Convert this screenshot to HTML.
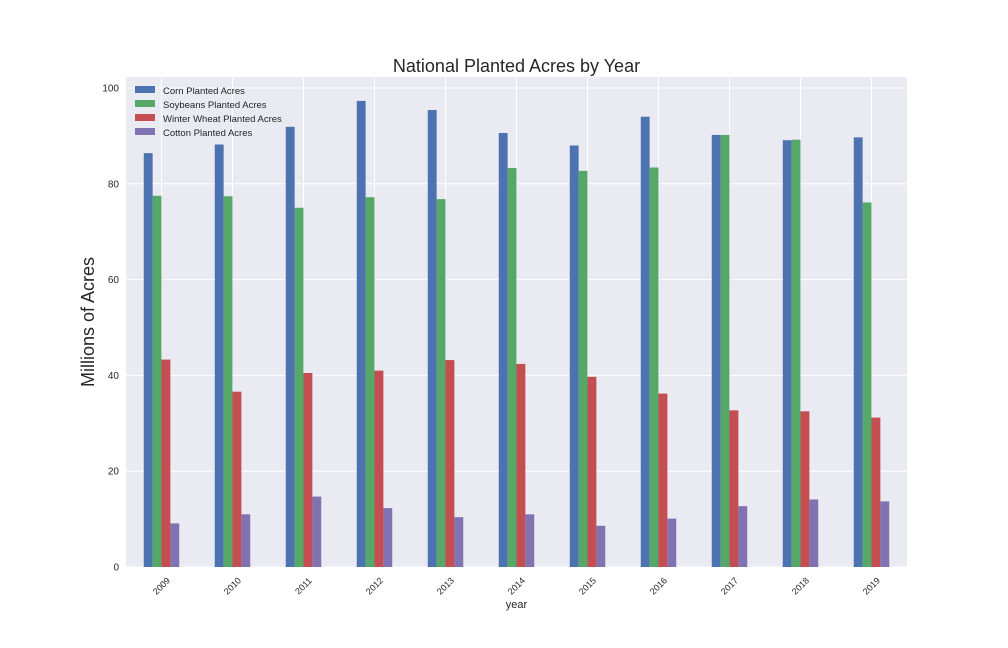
<!DOCTYPE html>
<html><head><meta charset="utf-8"><style>
body{margin:0;background:#fff;}
svg{display:block;font-family:"Liberation Sans",Arial,sans-serif;}
</style></head><body>
<svg id="chart" width="1008" height="648"></svg>
<script>
const years=["2009","2010","2011","2012","2013","2014","2015","2016","2017","2018","2019"];
const corn=[86.4,88.2,91.9,97.3,95.4,90.6,88.0,94.0,90.2,89.1,89.7];
const soy=[77.5,77.4,75.0,77.2,76.8,83.3,82.7,83.4,90.2,89.2,76.1];
const wheat=[43.3,36.6,40.5,41.0,43.2,42.4,39.7,36.2,32.7,32.5,31.2];
const cotton=[9.1,11.0,14.7,12.3,10.4,11.0,8.6,10.1,12.7,14.1,13.7];
const seriesNames=["Corn Planted Acres","Soybeans Planted Acres","Winter Wheat Planted Acres","Cotton Planted Acres"];
const yTicks=[0,20,40,60,80,100];

const NS="http://www.w3.org/2000/svg";
const svg=document.getElementById('chart');
const L=126,R=907,T=77,B=567;
const colors=["#4C72B0","#55A868","#C44E52","#8172B2"];
const step=(R-L)/years.length;
const xc=i=>L+step*(i+0.5);
const y=v=>B-v*4.79;
function mk(tag,a,p){const e=document.createElementNS(NS,tag);for(const k in a)e.setAttribute(k,a[k]);(p||svg).appendChild(e);return e;}
const bg=mk('rect',{x:L,y:T,width:R-L,height:B-T,fill:'#EAEAF2'});


yTicks.forEach(t=>{
  const g=mk('line',{x1:L,x2:R,y1:y(t),y2:y(t),stroke:'#fff','stroke-width':1});
  
  
  const tx=mk('text',{x:L-7,y:y(t)+3.5,'text-anchor':'end','font-size':10,fill:'#262626'});
  tx.textContent=t;
  
  
});
years.forEach((yr,i)=>{
  const g=mk('line',{x1:xc(i),x2:xc(i),y1:T,y2:B,stroke:'#fff','stroke-width':1});
  
  
  const tx=mk('text',{x:0,y:3,'text-anchor':'middle','font-size':9,fill:'#262626',transform:`translate(${xc(i)},${B+19}) rotate(-45)`});
  tx.textContent=yr;
  
  
});
const bw=step*0.125;
[corn,soy,wheat,cotton].forEach((s,k)=>{
  s.forEach((v,i)=>{
    const r=mk('rect',{x:xc(i)-2*bw+k*bw,y:y(v),width:bw,height:B-y(v),fill:colors[k]});
    
    
  });
});
seriesNames.forEach((n,k)=>{
  const r=mk('rect',{x:135,y:86+k*14,width:20,height:7,fill:colors[k]});
  
  
  const t=mk('text',{x:163,y:94+k*14,'font-size':9.5,fill:'#262626'});
  t.textContent=n;
  
  
});
const title=mk('text',{x:(L+R)/2,y:72,'text-anchor':'middle','font-size':18,fill:'#262626'});
title.textContent="National Planted Acres by Year";


const yl=mk('text',{x:0,y:0,'text-anchor':'middle','font-size':18,fill:'#262626',transform:`translate(94,${(T+B)/2}) rotate(-90)`});
yl.textContent="Millions of Acres";


const xl=mk('text',{x:(L+R)/2,y:608,'text-anchor':'middle','font-size':11,fill:'#262626'});
xl.textContent="year";


</script>
</body></html>
